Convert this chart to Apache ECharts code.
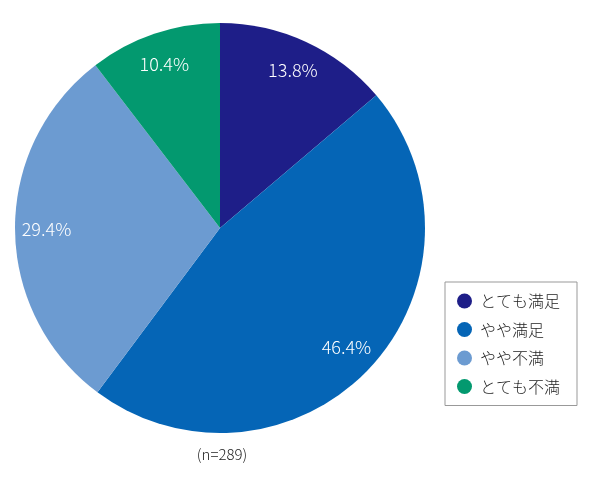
<!DOCTYPE html>
<html lang="ja">
  <head>
    <meta charset="UTF-8" />
    <title>満足度</title>
    <script src="https://cdn.jsdelivr.net/npm/echarts@6/dist/echarts.min.js"></script>
    <style>
      html, body { margin: 0; padding: 0; background: #fff; }
      #chart { width: 590px; height: 485px; }
    </style>
  </head>
  <body>
    <div id="chart"></div>
    <script>
      var categories = ["とても満足", "やや満足", "やや不満", "とても不満"];
      var values = [13.8, 46.4, 29.4, 10.4];
      var colors = ["#1e1e88", "#0565b6", "#6c9bd1", "#03996f"];
      var note = "(n=289)";

      var pieData = categories.map(function (name, i) {
        return { name: name, value: values[i], itemStyle: { color: colors[i] } };
      });

      var chart = echarts.init(document.getElementById("chart"));
      chart.setOption({
        animation: false,
        textStyle: { fontFamily: "Noto Sans CJK JP" },
        title: {
          text: note,
          left: 217,
          top: 442,
          textAlign: "center",
          textStyle: { fontSize: 15, fontWeight: 300, color: "#222" },
        },
        legend: {
          orient: "vertical",
          left: 445,
          top: 282,
          padding: [9, 17, 9, 12],
          itemGap: 8.5,
          itemWidth: 15,
          itemHeight: 15,
          icon: "circle",
          borderColor: "#999",
          borderWidth: 1,
          data: categories,
          textStyle: {
            fontSize: 16,
            fontWeight: 300,
            color: "#222",
            lineHeight: 20,
            padding: [0, 0, 0, 3],
          },
        },
        series: [
          {
            type: "pie",
            center: [220, 228],
            radius: [0, 205],
            startAngle: 90,
            clockwise: true,
            label: { show: false },
            labelLine: { show: false },
            emphasis: { disabled: true },
            data: pieData,
          },
          {
            // transparent ring only used to place the percentage labels
            type: "pie",
            center: [220, 228],
            radius: [136, 205],
            startAngle: 90,
            clockwise: true,
            silent: true,
            legendHoverLink: false,
            itemStyle: { color: "rgba(0,0,0,0)" },
            label: {
              show: true,
              position: "inside",
              formatter: "{c}%",
              color: "#fff",
              fontSize: 18,
              fontWeight: 300,
            },
            labelLine: { show: false },
            emphasis: { disabled: true },
            data: values.map(function (v, i) {
              return { name: "_" + i, value: v };
            }),
          },
        ],
      });
    </script>
  </body>
</html>
